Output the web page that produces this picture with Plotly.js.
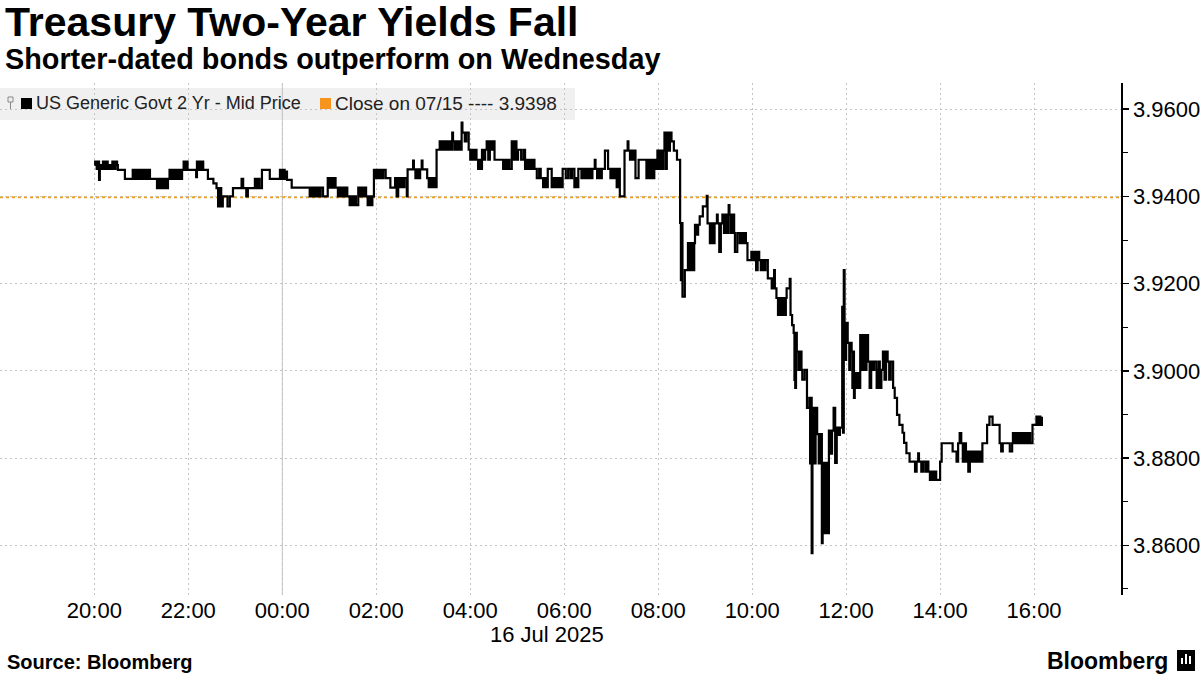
<!DOCTYPE html>
<html><head><meta charset="utf-8">
<script src="https://cdn.plot.ly/plotly-3.0.1.min.js"></script>
<style>html,body{margin:0;padding:0;background:#fff;}#chart{width:1200px;height:675px;}</style>
</head><body><div id="chart"></div>
<script>
// ---- data ----
const times = [
'20:00','20:01','20:03','20:05','20:06','20:07','20:09','20:11','20:13','20:15','20:17','20:19','20:21','20:23','20:25','20:27','20:29','20:30','20:39','20:49','20:51','20:53','20:55','20:57','20:59',
'21:01','21:03','21:05','21:07','21:09','21:11','21:20','21:22','21:24','21:26','21:28','21:30','21:32','21:34','21:36','21:38','21:40','21:42','21:44','21:46','21:48','21:50','21:52','21:54','21:56','21:58','21:59',
'22:10','22:11','22:13','22:15','22:17','22:18','22:19','22:25','22:32','22:36','22:38','22:40','22:42','22:44','22:50','22:53','22:57',
'23:08','23:10','23:14','23:16','23:25','23:27','23:29','23:31','23:34','23:44','23:57','23:59',
'00:01','00:03','00:05','00:06','00:12','00:35','00:37','00:39','00:41','00:43','00:45','00:47','00:49','00:52','00:58',
'01:00','01:02','01:04','01:06','01:08','01:11','01:13','01:15','01:17','01:19','01:21','01:23','01:26','01:28','01:30','01:32','01:34','01:37','01:39','01:41','01:43','01:45','01:47','01:49','01:51','01:53','01:55','01:57','01:59',
'02:01','02:03','02:05','02:07','02:09','02:12','02:18','02:24','02:26','02:28','02:30','02:32','02:34','02:36','02:39','02:40','02:47','02:48','02:50','02:52','02:54','02:56','02:58','02:59',
'03:05','03:07','03:09','03:11','03:13','03:15','03:17','03:21','03:23','03:25','03:27','03:29','03:31','03:33','03:35','03:37','03:38','03:40','03:42','03:43','03:45','03:47','03:49','03:50','03:53','03:55','03:58',
'04:00','04:02','04:04','04:06','04:08','04:10','04:12','04:14','04:15','04:17','04:19','04:21','04:23','04:25','04:27','04:29','04:31','04:42','04:44','04:46','04:48','04:50','04:53','04:55','04:57','04:59',
'05:01','05:05','05:08','05:10','05:12','05:14','05:16','05:18','05:20','05:22','05:25','05:28','05:30','05:33','05:35','05:37','05:39','05:44','05:46','05:48','05:50','05:52','05:54','05:56','05:58',
'06:02','06:05','06:08','06:10','06:13','06:15','06:17','06:18','06:22','06:24','06:26','06:28','06:30','06:32','06:34','06:36','06:39','06:40','06:42','06:44','06:46','06:48','06:52','06:56','06:59',
'07:01','07:03','07:05','07:07','07:09','07:11','07:17','07:21','07:22','07:24','07:26','07:28','07:30','07:31','07:35','07:45','07:47','07:49','07:51','07:53','07:55','07:57','07:59',
'08:01','08:03','08:05','08:07','08:08','08:10','08:11','08:13','08:15','08:17','08:20','08:24','08:28','08:29','08:30','08:31','08:34','08:38','08:40','08:42','08:44','08:46','08:47','08:49','08:51','08:53','08:57',
'09:02','09:03','09:06','09:08','09:10','09:12','09:15','09:16','09:18','09:20','09:22','09:24','09:26','09:28','09:30','09:31','09:33','09:35','09:37','09:38','09:41','09:44','09:46','09:48','09:50','09:52','09:54','09:59',
'10:01','10:03','10:05','10:07','10:09','10:11','10:13','10:15','10:17','10:20','10:25','10:27','10:28','10:29','10:31','10:33','10:35','10:37','10:39','10:41','10:43','10:44','10:48','10:49','10:51','10:53','10:54','10:55','10:56','10:57','10:59',
'11:01','11:03','11:04','11:07','11:10','11:13','11:14','11:15','11:16','11:17','11:19','11:21','11:23','11:25','11:27','11:29','11:30','11:32','11:34','11:36','11:38','11:40','11:42','11:44','11:46','11:48','11:50','11:52','11:55','11:56','11:57','11:58','11:59',
'12:00','12:02','12:04','12:05','12:07','12:08','12:09','12:10','12:11','12:13','12:15','12:17','12:18','12:20','12:22','12:24','12:26','12:28','12:30','12:32','12:34','12:36','12:39','12:41','12:42','12:43','12:45','12:47','12:49','12:51','12:53','12:55','12:57',
'13:00','13:02','13:05','13:08','13:12','13:14','13:17','13:21','13:28','13:30','13:32','13:33','13:36','13:38','13:41','13:43','13:45','13:47','13:49','13:51','13:53','13:55',
'14:00','14:02','14:16','14:21','14:23','14:25','14:27','14:29','14:31','14:33','14:35','14:36','14:38','14:40','14:42','14:44','14:46','14:48','14:50','14:52','14:54',
'15:00','15:03','15:07','15:16','15:18','15:20','15:29','15:32','15:33','15:35','15:37','15:39','15:41','15:43','15:45','15:47','15:49','15:51','15:53','15:55','15:58',
'16:03','16:05','16:07','16:08','16:10'
];
const yields = [
3.9472,3.9480,3.9463,3.9480,3.9438,3.9472,3.9463,3.9480,3.9463,3.9480,3.9463,3.9472,3.9463,3.9480,3.9463,3.9480,3.9472,3.9461,3.9440,3.9461,3.9440,3.9461,3.9440,3.9461,3.9440,
3.9461,3.9440,3.9461,3.9440,3.9461,3.9440,3.9419,3.9440,3.9419,3.9440,3.9419,3.9440,3.9419,3.9440,3.9461,3.9440,3.9461,3.9440,3.9461,3.9440,3.9461,3.9440,3.9461,3.9480,3.9461,3.9480,3.9461,
3.9444,3.9480,3.9461,3.9480,3.9461,3.9480,3.9461,3.9440,3.9430,3.9419,3.9377,3.9419,3.9377,3.9400,3.9377,3.9400,3.9419,
3.9440,3.9419,3.9400,3.9419,3.9440,3.9419,3.9440,3.9419,3.9461,3.9440,3.9461,3.9440,
3.9461,3.9440,3.9457,3.9438,3.9420,3.9400,3.9420,3.9400,3.9420,3.9400,3.9420,3.9400,3.9420,3.9400,3.9442,
3.9420,3.9442,3.9420,3.9442,3.9420,3.9400,3.9420,3.9400,3.9420,3.9400,3.9420,3.9400,3.9380,3.9400,3.9380,3.9400,3.9380,3.9420,3.9400,3.9420,3.9400,3.9420,3.9400,3.9380,3.9400,3.9380,3.9400,3.9461,3.9442,
3.9461,3.9442,3.9461,3.9442,3.9461,3.9442,3.9420,3.9442,3.9400,3.9442,3.9421,3.9442,3.9421,3.9442,3.9400,3.9462,3.9482,3.9462,3.9442,3.9462,3.9442,3.9462,3.9482,3.9462,
3.9442,3.9421,3.9442,3.9421,3.9442,3.9421,3.9507,3.9526,3.9507,3.9526,3.9507,3.9526,3.9507,3.9526,3.9507,3.9546,3.9526,3.9507,3.9526,3.9507,3.9526,3.9507,3.9569,3.9546,3.9526,3.9546,3.9507,
3.9484,3.9507,3.9484,3.9507,3.9484,3.9463,3.9484,3.9463,3.9507,3.9484,3.9507,3.9526,3.9484,3.9526,3.9507,3.9526,3.9484,3.9463,3.9484,3.9463,3.9484,3.9463,3.9526,3.9484,3.9526,3.9484,
3.9507,3.9484,3.9507,3.9463,3.9484,3.9463,3.9484,3.9463,3.9484,3.9463,3.9442,3.9463,3.9442,3.9421,3.9442,3.9421,3.9463,3.9421,3.9442,3.9421,3.9442,3.9421,3.9442,3.9421,3.9463,
3.9442,3.9463,3.9442,3.9463,3.9421,3.9442,3.9421,3.9463,3.9442,3.9463,3.9442,3.9463,3.9442,3.9463,3.9442,3.9463,3.9484,3.9463,3.9442,3.9463,3.9442,3.9463,3.9505,3.9463,3.9442,
3.9463,3.9442,3.9463,3.9421,3.9463,3.9400,3.9505,3.9526,3.9505,3.9484,3.9505,3.9484,3.9505,3.9442,3.9484,3.9442,3.9484,3.9442,3.9484,3.9442,3.9484,3.9463,3.9505,
3.9463,3.9505,3.9463,3.9505,3.9546,3.9463,3.9546,3.9505,3.9546,3.9526,3.9505,3.9484,3.9339,3.9208,3.9339,3.9170,3.9231,3.9293,3.9231,3.9293,3.9231,3.9293,3.9335,3.9312,3.9335,3.9354,3.9377,
3.9401,3.9338,3.9293,3.9338,3.9293,3.9338,3.9358,3.9338,3.9273,3.9338,3.9358,3.9316,3.9358,3.9316,3.9380,3.9358,3.9316,3.9358,3.9316,3.9273,3.9316,3.9293,3.9316,3.9293,3.9316,3.9293,3.9254,3.9273,
3.9254,3.9273,3.9231,3.9273,3.9254,3.9231,3.9254,3.9231,3.9254,3.9212,3.9189,3.9212,3.9231,3.9189,3.9167,3.9128,3.9167,3.9128,3.9167,3.9128,3.9167,3.9189,3.9211,3.9128,3.9105,3.9087,3.8979,3.8961,3.9087,3.9044,3.9002,
3.9044,3.9002,3.8980,3.9002,3.8915,3.8938,3.8788,3.8938,3.8582,3.8915,3.8788,3.8915,3.8855,3.8788,3.8855,3.8605,3.8789,3.8628,3.8789,3.8628,3.8863,3.8810,3.8863,3.8915,3.8789,3.8870,3.8853,3.8870,3.9147,3.8858,3.9231,3.9110,3.9025,
3.9110,3.9064,3.9002,3.9064,3.9044,3.8961,3.9044,3.8938,3.8995,3.8961,3.8995,3.8961,3.9082,3.9002,3.9082,3.9002,3.9082,3.9021,3.8961,3.9021,3.9002,3.9021,3.8961,3.9002,3.9021,3.8961,3.9002,3.9044,3.8980,3.9044,3.9021,3.8980,3.9021,
3.8961,3.8938,3.8899,3.8876,3.8858,3.8835,3.8811,3.8792,3.8769,3.8792,3.8811,3.8792,3.8769,3.8792,3.8769,3.8792,3.8769,3.8750,3.8769,3.8750,3.8769,3.8750,
3.8792,3.8834,3.8815,3.8792,3.8834,3.8857,3.8834,3.8792,3.8834,3.8792,3.8815,3.8769,3.8815,3.8792,3.8815,3.8792,3.8815,3.8792,3.8815,3.8792,3.8834,
3.8876,3.8895,3.8876,3.8834,3.8815,3.8834,3.8815,3.8834,3.8857,3.8834,3.8857,3.8834,3.8857,3.8834,3.8857,3.8834,3.8857,3.8834,3.8857,3.8834,3.8876,
3.8895,3.8876,3.8895,3.8876,3.8895
];
const closeValue = 3.9398;
const seriesName = 'US Generic Govt 2 Yr - Mid Price';
const closeLabel = 'Close on 07/15 ---- 3.9398';
const tickTimes  = ['18:00','20:00','22:00','00:00','02:00','04:00','06:00','08:00','10:00','12:00','14:00','16:00'];
const tickLabels = ['','20:00','22:00','00:00','02:00','04:00','06:00','08:00','10:00','12:00','14:00','16:00'];
const yTickVals  = [3.86,3.88,3.90,3.92,3.94,3.96];
const yMinorVals = [3.85,3.87,3.89,3.91,3.93,3.95];
const dateLabel  = '16 Jul 2025';
const titleText  = 'Treasury Two-Year Yields Fall';
const subtitleText = 'Shorter-dated bonds outperform on Wednesday';
const sourceText = 'Source: Bloomberg';

// ---- helpers ----
function toDate(t){ const h = parseInt(t.slice(0,2),10); return (h>=17 ? '2025-07-15 ' : '2025-07-16 ') + t; }
const L=0, R=1121, T=83, B=595;
const px = x => (x-L)/(R-L);
const py = y => (B-y)/(B-T);
const FONT = 'Liberation Sans, Arial, sans-serif';

const trace = {
  type:'scatter', mode:'lines', name:seriesName,
  x: times.map(toDate), y: yields,
  line:{shape:'hv', color:'#000000', width:2.2},
  hoverinfo:'skip', showlegend:false
};

const shapes = [
  // legend background
  {type:'rect', xref:'paper', yref:'paper', x0:px(0), x1:px(575), y0:py(120), y1:py(88), fillcolor:'#f0f0f0', line:{width:0}, layer:'below'},
  // midnight solid line
  {type:'line', xref:'x', yref:'paper', x0:toDate('00:00'), x1:toDate('00:00'), y0:0, y1:1, line:{color:'#c4c4c4', width:1}, layer:'below'},
  // previous close line
  {type:'line', xref:'paper', yref:'y', x0:0, x1:1, y0:closeValue, y1:closeValue, line:{color:'#eaa12a', width:2, dash:'dot'}, layer:'between'},
  // legend icons
  {type:'rect', xref:'paper', yref:'paper', x0:px(8), x1:px(13), y0:py(102), y1:py(97), fillcolor:'rgba(0,0,0,0)', line:{color:'#888', width:1}},
  {type:'line', xref:'paper', yref:'paper', x0:px(10.5), x1:px(10.5), y0:py(102), y1:py(109), line:{color:'#888', width:1}},
  {type:'rect', xref:'paper', yref:'paper', x0:px(21), x1:px(32), y0:py(109), y1:py(98), fillcolor:'#000', line:{width:0}},
  {type:'rect', xref:'paper', yref:'paper', x0:px(320), x1:px(331), y0:py(109), y1:py(98), fillcolor:'#f7941d', line:{width:0}},
  // Bloomberg mark
  {type:'rect', xref:'paper', yref:'paper', x0:px(1177), x1:px(1195), y0:py(671), y1:py(650), fillcolor:'#000', line:{width:0}},
  {type:'rect', xref:'paper', yref:'paper', x0:px(1181), x1:px(1183), y0:py(664), y1:py(658), fillcolor:'#fff', line:{width:0}},
  {type:'rect', xref:'paper', yref:'paper', x0:px(1185), x1:px(1187), y0:py(664), y1:py(654), fillcolor:'#fff', line:{width:0}},
  {type:'rect', xref:'paper', yref:'paper', x0:px(1189), x1:px(1191), y0:py(664), y1:py(656), fillcolor:'#fff', line:{width:0}}
];

const ann = (text, x, y, size, opts={}) => Object.assign({
  text, x:px(x), y:py(y), xref:'paper', yref:'paper', showarrow:false,
  xanchor:'left', yanchor:'middle', font:{family:FONT, size, color:'#000'}
}, opts);

const annotations = [
  ann('<b>'+titleText+'</b>', 3, 22, 41),
  ann('<b>'+subtitleText+'</b>', 3, 59, 28.8),
  ann(seriesName, 34, 103, 18, {font:{family:FONT, size:18, color:'#222'}}),
  ann(closeLabel, 333, 103, 19, {font:{family:FONT, size:19, color:'#222'}}),
  ann(dateLabel, 547, 634, 22, {xanchor:'center'}),
  ann('<b>'+sourceText+'</b>', 5, 662, 20),
  ann('<b>Bloomberg</b>', 1170, 661, 23, {xanchor:'right'})
];

const layout = {
  width:1200, height:675,
  margin:{l:L, r:1200-R, t:T, b:675-B, pad:0},
  paper_bgcolor:'#ffffff', plot_bgcolor:'#ffffff',
  font:{family:FONT, color:'#000'},
  showlegend:false,
  xaxis:{
    type:'date',
    range:['2025-07-15 17:59:30','2025-07-16 17:51'],
    tickmode:'array', tickvals:tickTimes.map(toDate), ticktext:tickLabels,
    showgrid:true, gridcolor:'#c4c4c4', griddash:'2px,3px', gridwidth:1,
    showline:false, zeroline:false, ticks:'',
    tickfont:{family:FONT, size:22, color:'#000'}
  },
  yaxis:{
    side:'right', range:[3.8486,3.966],
    tickmode:'array', tickvals:yTickVals, tickformat:'.4f',
    showgrid:true, gridcolor:'#c4c4c4', griddash:'2px,3px', gridwidth:1,
    showline:true, linecolor:'#000', linewidth:1.5, mirror:false,
    ticks:'outside', ticklen:6, tickwidth:1.5, tickcolor:'#000',
    minor:{tickmode:'array', tickvals:yMinorVals, ticks:'outside', ticklen:5, tickwidth:1, tickcolor:'#000', showgrid:false},
    zeroline:false,
    tickfont:{family:FONT, size:22, color:'#000'}
  },
  shapes, annotations
};

Plotly.newPlot('chart', [trace], layout, {staticPlot:true, displayModeBar:false});
</script>
</body></html>
